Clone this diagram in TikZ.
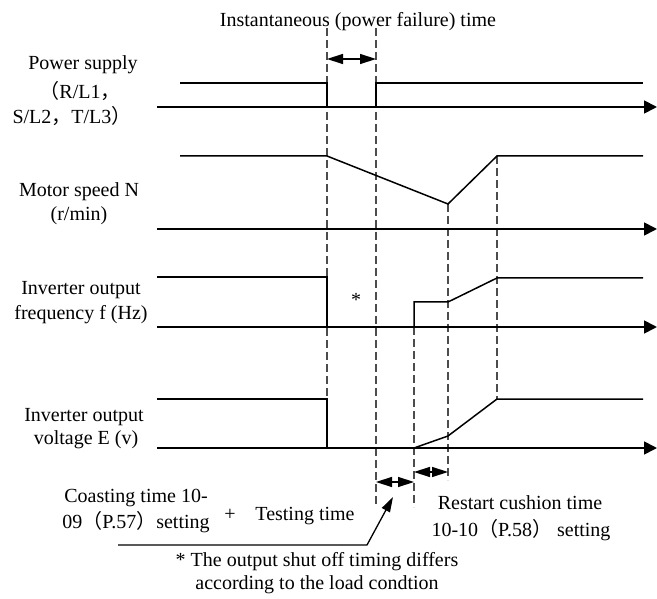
\documentclass[tikz,border=0pt]{standalone}
\usepackage{fontspec}
\setmainfont{Liberation Serif}
\newfontfamily\cjk{Noto Sans CJK SC}
\usetikzlibrary{arrows.meta}
\newcommand{\fwlp}{{\cjk （}}
\newcommand{\fwrp}{{\cjk ）}}
\newcommand{\fwcm}{{\cjk ，}}
\begin{document}
\begin{tikzpicture}[x=1pt,y=-1pt,
  font=\fontsize{20}{25}\selectfont,
  sig/.style={line width=1.5pt, line join=miter},
  axisline/.style={line width=1.8pt,-{Triangle[length=13pt,width=13pt]}},
  guide/.style={line width=1.2pt, dash pattern=on 8pt off 4pt, draw=black!70},
  span/.style={line width=1.4pt,{Triangle[length=16pt,width=10pt]}-{Triangle[length=16pt,width=10pt]}},
  lbl/.style={inner sep=0pt}]
\useasboundingbox (0,0) rectangle (657,599);

% ---- guide (dashed) lines
\coordinate (g1t) at (327,28);  \coordinate (g1b) at (327,448);
\coordinate (g2t) at (376,28);  \coordinate (g2b) at (376,505);
\coordinate (g3t) at (448,204); \coordinate (g3b) at (448,480);
\coordinate (g4t) at (497,156); \coordinate (g4b) at (497,399);
\coordinate (g5t) at (414,327); \coordinate (g5b) at (414,507);
\draw[guide] (g1t) -- (g1b);
\draw[guide] (g2t) -- (g2b);
\draw[guide] (g3t) -- (g3b);
\draw[guide] (g4t) -- (g4b);
\draw[guide] (g5t) -- (g5b);

% ---- title and instantaneous span
\node[lbl] (title) at (358,22) {Instantaneous (power failure) time};
\coordinate (s1a) at (327,59); \coordinate (s1b) at (376,59);
\draw[span] (s1a) -- (s1b);

% ---- axes
\coordinate (a1s) at (157,107); \coordinate (a1e) at (657,107);
\coordinate (a2s) at (157,229); \coordinate (a2e) at (657,229);
\coordinate (a3s) at (157,327); \coordinate (a3e) at (657,327);
\coordinate (a4s) at (157,448); \coordinate (a4e) at (657,448);
\draw[axisline] (a1s) -- (a1e);
\draw[axisline] (a2s) -- (a2e);
\draw[axisline] (a3s) -- (a3e);
\draw[axisline] (a4s) -- (a4e);

% ---- power supply
\draw[sig] (180,83) -- (327,83) -- (327,107);
\draw[sig] (376,107) -- (376,83) -- (643,83);
% ---- motor speed
\draw[sig] (180,156) -- (327,156) -- (448,204) -- (497,156) -- (643,156);
% ---- frequency
\draw[sig] (157,277) -- (327,277) -- (327,327);
\draw[sig] (414,327) -- (414,302) -- (448,302) -- (497,278) -- (643,278);
% ---- voltage
\draw[sig] (157,399) -- (327,399) -- (327,448);
\draw[sig] (414,448) -- (448,436) -- (497,399) -- (643,399);

% ---- left labels
\node[lbl] (ps1) at (83,65) {Power supply};
\node[lbl] (ps2) at (80,91) {\fwlp R/L1\fwcm};
\node[lbl] (ps3) at (72,116) {S/L2\fwcm T/L3\fwrp};
\node[lbl] (ms1) at (79,192) {Motor speed N};
\node[lbl] (ms2) at (79,216) {(r/min)};
\node[lbl] (fr1) at (81,290) {Inverter output};
\node[lbl] (fr2) at (81,315) {frequency f (Hz)};
\node[lbl] (vo1) at (84,417) {Inverter output};
\node[lbl] (vo2) at (86,440) {voltage E (v)};
\node[lbl] (star) at (356,300) {*};

% ---- bottom spans
\coordinate (s2a) at (414,472); \coordinate (s2b) at (448,472);
\draw[span] (s2a) -- (s2b);
\coordinate (s3a) at (376,482); \coordinate (s3b) at (414,482);
\draw[span] (s3a) -- (s3b);

% ---- bottom texts
\node[lbl] (co1) at (136,498) {Coasting time 10-};
\node[lbl] (co2) at (136,522) {09\fwlp P.57\fwrp setting};
\node[lbl] (plus) at (230,515) {+};
\node[lbl] (test) at (305,516) {Testing time};
\node[lbl] (rs1) at (520,503) {Restart cushion time};
\node[lbl] (rs2) at (521,530) {10-10\fwlp P.58\fwrp\ setting};
\node[lbl] (no1) at (317,562) {* The output shut off timing differs};
\node[lbl] (no2) at (317,585) {according to the load condtion};

% ---- pointer
\coordinate (p0) at (118,545); \coordinate (p1) at (367,545); \coordinate (p2) at (393,497);
\draw[line width=1.3pt,-{Triangle[length=15pt,width=9pt]}] (p0) -- (p1) -- (p2);
\end{tikzpicture}
\end{document}
